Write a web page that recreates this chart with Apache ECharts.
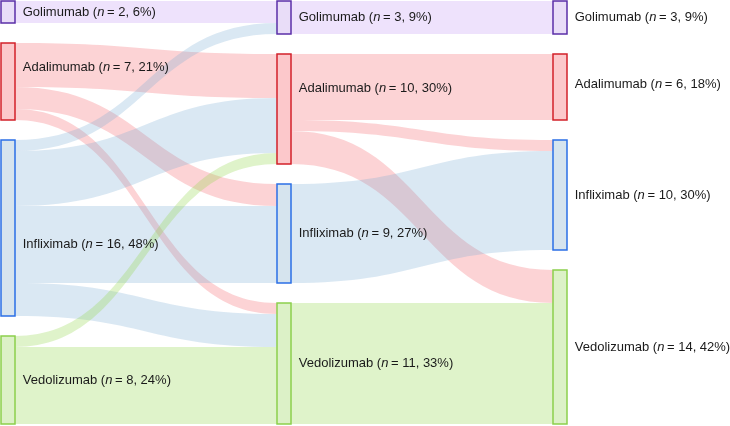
<!DOCTYPE html>
<html>
<head>
<meta charset="utf-8">
<script src="https://cdn.jsdelivr.net/npm/echarts@6/dist/echarts.min.js"></script>
<style>html,body{margin:0;padding:0;background:#fff}#c{width:730px;height:426px}</style>
</head>
<body>
<div id="c"></div>
<script>
// ---- data ----
const drugs = ['Golimumab', 'Adalimumab', 'Infliximab', 'Vedolizumab'];
const stages = ['s0', 's1', 's2'];
const counts0 = [2, 7, 16, 8];
const counts1 = [3, 10, 9, 11];
const counts2 = [3, 6, 10, 14];
const pct0 = [6, 21, 48, 24];
const pct1 = [9, 30, 27, 33];
const pct2 = [9, 18, 30, 42];
// [from drug, to drug, n]
const flows01 = [
  ['Golimumab', 'Golimumab', 2],
  ['Adalimumab', 'Adalimumab', 4],
  ['Adalimumab', 'Infliximab', 2],
  ['Adalimumab', 'Vedolizumab', 1],
  ['Infliximab', 'Golimumab', 1],
  ['Infliximab', 'Adalimumab', 5],
  ['Infliximab', 'Infliximab', 7],
  ['Infliximab', 'Vedolizumab', 3],
  ['Vedolizumab', 'Adalimumab', 1],
  ['Vedolizumab', 'Vedolizumab', 7]
];
const flows12 = [
  ['Golimumab', 'Golimumab', 3],
  ['Adalimumab', 'Adalimumab', 6],
  ['Adalimumab', 'Infliximab', 1],
  ['Adalimumab', 'Vedolizumab', 3],
  ['Infliximab', 'Infliximab', 9],
  ['Vedolizumab', 'Vedolizumab', 11]
];

// ---- styles ----
const borderCol = {Golimumab: '#5b2fa8', Adalimumab: '#d2202a', Infliximab: '#2b6fe6', Vedolizumab: '#8ccf4c'};
const nodeFill = {Golimumab: '#e9ddf8', Adalimumab: '#fcc8cb', Infliximab: '#d6e4ee', Vedolizumab: '#dcf1c7'};
const linkCol = {
  Golimumab: 'rgba(200,160,245,0.30)',
  Adalimumab: 'rgba(245,120,128,0.33)',
  Infliximab: 'rgba(120,170,210,0.27)',
  Vedolizumab: 'rgba(150,215,80,0.30)'
};
const labelOffset = {
  's0|Adalimumab': -14, 's0|Infliximab': 16,
  's1|Adalimumab': -21, 's2|Adalimumab': -3
};

const countsAll = [counts0, counts1, counts2];
const pctAll = [pct0, pct1, pct2];
const nodes = [];
const info = {};
stages.forEach((s, si) => {
  drugs.forEach((d, di) => {
    const id = s + '|' + d;
    info[id] = {drug: d, n: countsAll[si][di], p: pctAll[si][di]};
    nodes.push({
      name: id,
      depth: si,
      itemStyle: {color: nodeFill[d], borderColor: borderCol[d], borderWidth: 1.5},
      label: {offset: [0, labelOffset[id] || 0]}
    });
  });
});
const links = [];
flows01.forEach(f => links.push({source: 's0|' + f[0], target: 's1|' + f[1], value: f[2], lineStyle: {color: linkCol[f[0]], opacity: 1}}));
flows12.forEach(f => links.push({source: 's1|' + f[0], target: 's2|' + f[1], value: f[2], lineStyle: {color: linkCol[f[0]], opacity: 1}}));

const chart = echarts.init(document.getElementById('c'), null, {renderer: 'canvas'});
chart.setOption({
  animation: false,
  backgroundColor: '#fff',
  series: [{
    type: 'sankey',
    left: 1,
    right: 163,
    top: 1,
    bottom: 2,
    nodeWidth: 14,
    nodeGap: 20,
    layoutIterations: 0,
    nodeAlign: 'left',
    draggable: false,
    emphasis: {disabled: true},
    data: nodes,
    links: links,
    lineStyle: {curveness: 0.5},
    label: {
      show: true,
      position: 'right',
      distance: 7,
      fontFamily: 'Liberation Sans, Arial, sans-serif',
      fontSize: 13,
      color: '#1a1a1a',
      formatter: function (p) {
        const o = info[p.name];
        return '{a|' + o.drug + ' (}{i|n}{a|\u2009= ' + o.n + ', ' + o.p + '%)}';
      },
      rich: {
        a: {fontFamily: 'Liberation Sans, Arial, sans-serif', fontSize: 13, color: '#1a1a1a'},
        i: {fontFamily: 'Liberation Sans, Arial, sans-serif', fontSize: 13, fontStyle: 'italic', color: '#1a1a1a'}
      }
    }
  }]
});
</script>
</body>
</html>
